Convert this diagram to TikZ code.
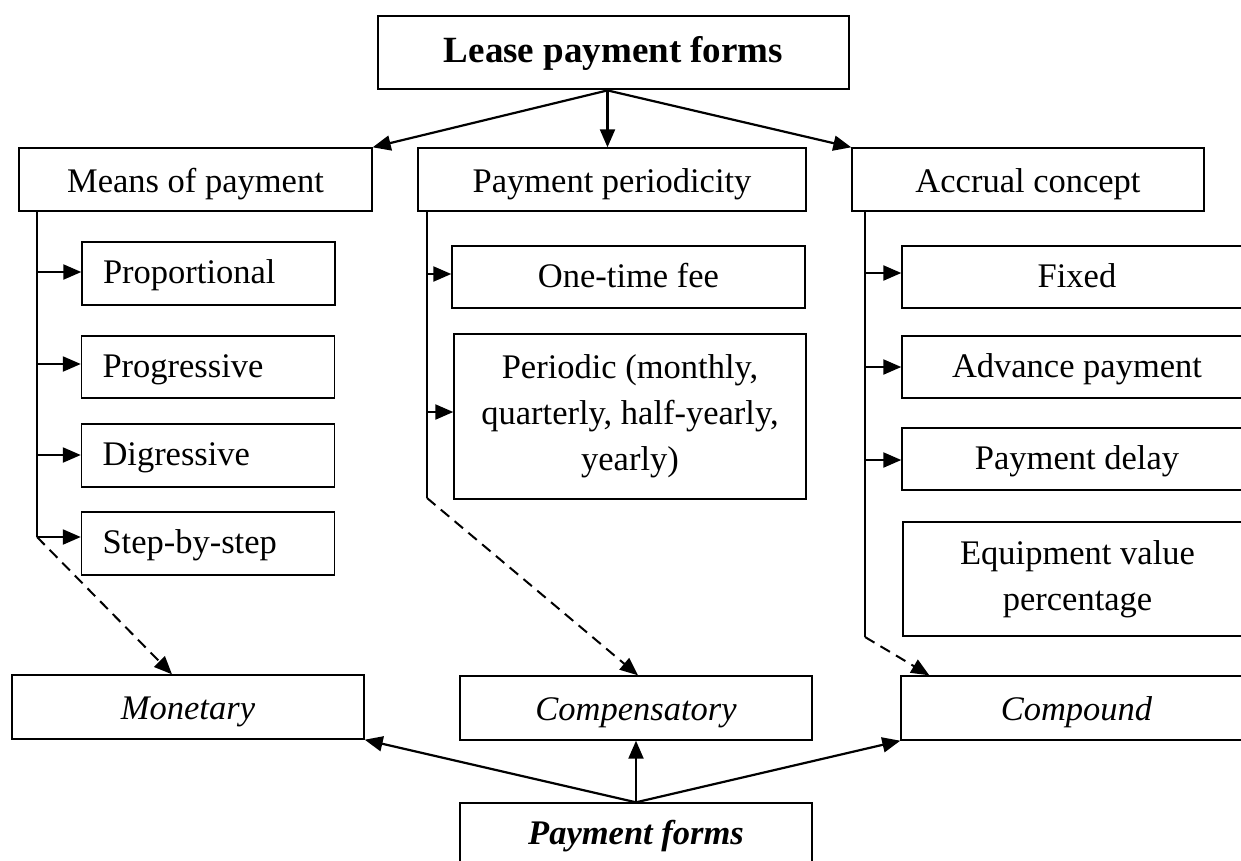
\documentclass[tikz,border=0pt]{standalone}
\usepackage{fontspec}
\setmainfont{Liberation Serif}
\usetikzlibrary{arrows.meta}
\begin{document}
\begin{tikzpicture}[x=1pt,y=-1pt,
  box/.style={draw, line width=1.4pt, inner sep=0pt, font=\fontsize{34.5}{46}\selectfont, align=center},
  one/.style={text height=24pt, text depth=4pt},
  onelow/.style={text height=26pt, text depth=1pt},
  lbox/.style={box, one, inner xsep=21pt, text width=211pt, align=left, minimum width=253pt},
  arr/.style={line width=2.2pt, -{Triangle[length=18pt,width=15pt]}},
  dsh/.style={line width=2pt, dash pattern=on 11pt off 7pt, -{Triangle[length=18pt,width=15pt]}},
  vline/.style={line width=1.5pt}]
\useasboundingbox (0,0) rectangle (1241,860);
\clip (0,0) rectangle (1241,860);
\fill[white] (0,0) rectangle (1241,860);

% top
\node[box, one, line width=2.8pt, font=\fontsize{37}{44}\selectfont\bfseries, minimum width=471pt, minimum height=73pt] (top) at (613.5,52.5) {Lease payment forms};

% row 2
\node[box, onelow, minimum width=353pt, minimum height=63pt] (mop) at (195.5,179.5) {Means of payment};
\node[box, onelow, minimum width=388pt, minimum height=63pt] (pp) at (612,179.5) {Payment periodicity};
\node[box, onelow, minimum width=352pt, minimum height=63pt] (ac) at (1028,179.5) {Accrual concept};

% left column
\node[lbox, minimum height=63pt] (prop) at (208.5,273.5) {Proportional};
\node[lbox, minimum height=62pt] (prog) at (208,367) {Progressive};
\node[lbox, minimum height=63pt] (dig) at (208,455.5) {Digressive};
\node[lbox, minimum height=63pt] (step) at (208,543.5) {Step-by-step};

% middle column
\node[box, one, minimum width=353pt, minimum height=62pt] (otf) at (628.5,277) {One-time fee};
\node[box, minimum width=352pt, minimum height=165pt] (per) at (630,416.5) {Periodic (monthly,\\quarterly, half-yearly,\\yearly)};

% right column
\node[box, one, minimum width=350pt, minimum height=62pt] (fix) at (1077,277) {Fixed};
\node[box, one, minimum width=350pt, minimum height=62pt] (adv) at (1077,367) {Advance payment};
\node[box, one, minimum width=350pt, minimum height=62pt] (del) at (1077,459) {Payment delay};
\node[box, minimum width=349pt, minimum height=114pt] (eq) at (1077.5,579) {Equipment value\\percentage};

% bottom row
\node[box, onelow, minimum width=352pt, minimum height=64pt, font=\fontsize{34.5}{46}\selectfont\itshape] (mon) at (188,707) {Monetary};
\node[box, onelow, minimum width=352pt, minimum height=64pt, font=\fontsize{34.5}{46}\selectfont\itshape] (comp) at (636,708) {Compensatory};
\node[box, onelow, minimum width=351pt, minimum height=64pt, font=\fontsize{34.5}{46}\selectfont\itshape] (cpd) at (1076.5,708) {Compound};
\node[box, one, minimum width=352pt, minimum height=63pt, font=\fontsize{34.5}{46}\selectfont\bfseries\itshape] (pf) at (636,834.5) {Payment forms};

% top arrows
\coordinate (ts) at ([xshift=-6pt]top.south);
\draw[arr] (ts) -- (mop.north east);
\draw[arr] (ts) -- (ts |- pp.north);
\draw[arr] (ts) -- (ac.north west);

% left column lines
\coordinate (L1) at (37,211);
\coordinate (L2) at (37,537);
\draw[vline] (L1) -- (L2);
\draw[arr] (L1 |- 0,272) -- (prop.west |- 0,272);
\draw[arr] (L1 |- 0,364) -- (prog.west |- 0,364);
\draw[arr] (L1 |- 0,455) -- (dig.west |- 0,455);
\draw[arr] (L2) -- (L2 -| step.west);
\draw[dsh] (L2) -- ([xshift=-16pt]mon.north);

% middle column lines
\coordinate (M1) at (427,211);
\coordinate (M2) at (427,498);
\draw[vline] (M1) -- (M2);
\draw[arr] (M1 |- 0,274) -- (otf.west |- 0,274);
\draw[arr] (M1 |- 0,412) -- (per.west |- 0,412);
\draw[dsh] (M2) -- ([xshift=2pt]comp.north);

% right column lines
\coordinate (R1) at (865,211);
\coordinate (R2) at (865,637);
\draw[vline] (R1) -- (R2);
\draw[arr] (R1 |- 0,273) -- (fix.west |- 0,273);
\draw[arr] (R1 |- 0,367) -- (adv.west |- 0,367);
\draw[arr] (R1 |- 0,460) -- (del.west |- 0,460);
\draw[dsh] (R2) -- ([xshift=29pt]cpd.north west);

% bottom arrows
\draw[arr] (pf.north) -- (mon.south east);
\draw[arr] (pf.north) -- (comp.south);
\draw[arr] (pf.north) -- (cpd.south west);
\end{tikzpicture}
\end{document}
